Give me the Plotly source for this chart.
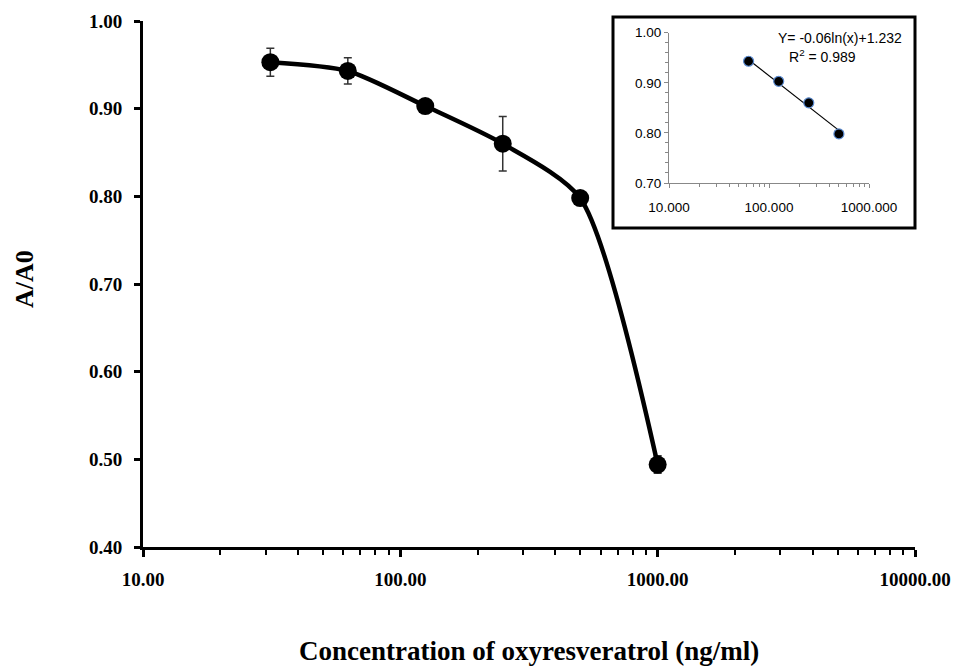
import plotly.graph_objects as go

# Main data
conc = [31.25, 62.5, 125, 250, 500, 1000]
ratio = [0.953, 0.943, 0.903, 0.860, 0.798, 0.494]
err = [0.016, 0.015, 0.003, 0.031, 0.004, 0.010]

x_tickvals = [10, 100, 1000, 10000]
x_ticktext = ["10.00", "100.00", "1000.00", "10000.00"]
y_tickvals = [0.40, 0.50, 0.60, 0.70, 0.80, 0.90, 1.00]
x_minor = [20, 30, 40, 50, 60, 70, 80, 90, 200, 300, 400, 500, 600, 700, 800, 900,
           2000, 3000, 4000, 5000, 6000, 7000, 8000, 9000]

# Inset data
ins_conc = [62.5, 125, 250, 500]
ins_ratio = [0.943, 0.903, 0.860, 0.798]
trend_x = [62.5, 500]
trend_y = [0.946, 0.805]
ins_x_tickvals = [10, 100, 1000]
ins_x_ticktext = ["10.000", "100.000", "1000.000"]
ins_y_tickvals = [0.70, 0.80, 0.90, 1.00]
ins_x_minor = [20, 30, 40, 50, 60, 70, 80, 90, 200, 300, 400, 500, 600, 700, 800, 900]

serif = "Liberation Serif"
sans = "Liberation Sans"

fig = go.Figure()

fig.add_trace(go.Scatter(
    x=conc, y=ratio, mode="lines+markers",
    line=dict(color="black", width=4.5, shape="spline", smoothing=0.7),
    marker=dict(color="black", size=18),
    error_y=dict(type="data", array=err, visible=True, color="#333333", thickness=1.5, width=4),
    xaxis="x", yaxis="y", showlegend=False,
))

fig.add_trace(go.Scatter(
    x=trend_x, y=trend_y, mode="lines",
    line=dict(color="black", width=1.2),
    xaxis="x2", yaxis="y2", showlegend=False,
))
fig.add_trace(go.Scatter(
    x=ins_conc, y=ins_ratio, mode="markers",
    marker=dict(color="black", size=10, line=dict(color="#5B8BD0", width=1.2)),
    xaxis="x2", yaxis="y2", showlegend=False,
))

W, H = 956, 669
L, R, T, B = 143, 41, 21, 122
pw, ph = W - L - R, H - T - B

def px2x(px):
    return (px - L) / pw

def py2y(py):
    return (H - B - py) / ph

fig.update_layout(
    width=W, height=H, autosize=False,
    margin=dict(l=L, r=R, t=T, b=B, autoexpand=False),
    paper_bgcolor="white", plot_bgcolor="white",
    xaxis=dict(
        type="log", range=[1, 4], domain=[0, 1], automargin=False,
        tickvals=x_tickvals, ticktext=x_ticktext,
        ticks="outside", ticklen=7, tickwidth=2.5, tickcolor="black",
        showline=True, linecolor="black", linewidth=3,
        showgrid=False, zeroline=False,
        tickfont=dict(family=serif, size=19, color="black", weight="bold"),
        ticklabelstandoff=6,
        minor=dict(tickvals=x_minor, ticks="outside", ticklen=5, tickwidth=2, tickcolor="black", showgrid=False),
    ),
    yaxis=dict(
        range=[0.40, 1.00], domain=[0, 1], automargin=False,
        tickvals=y_tickvals, tickformat=".2f",
        ticks="outside", ticklen=6, tickwidth=2.5, tickcolor="black",
        showline=True, linecolor="black", linewidth=3,
        showgrid=False, zeroline=False,
        tickfont=dict(family=serif, size=19, color="black", weight="bold"),
        ticklabelstandoff=8,
    ),
    xaxis2=dict(
        type="log", range=[1, 3], domain=[px2x(669), px2x(869)], anchor="y2", automargin=False,
        tickvals=ins_x_tickvals, ticktext=ins_x_ticktext,
        ticks="outside", ticklen=4, tickwidth=1, tickcolor="#888888",
        showline=True, linecolor="#888888", linewidth=1,
        showgrid=False, zeroline=False,
        tickfont=dict(family=sans, size=13.5, color="black"),
        ticklabelstandoff=8,
        minor=dict(tickvals=ins_x_minor, ticks="outside", ticklen=3, tickwidth=1,
                   tickcolor="#888888", showgrid=False),
    ),
    yaxis2=dict(
        range=[0.70, 1.00], domain=[py2y(183), py2y(32.7)], anchor="x2", automargin=False,
        tickvals=ins_y_tickvals, tickformat=".2f",
        ticks="outside", ticklen=4, tickwidth=1, tickcolor="#888888",
        showline=True, linecolor="#888888", linewidth=1,
        showgrid=False, zeroline=False,
        tickfont=dict(family=sans, size=13.5, color="black"),
        minor=dict(dtick=0.02, ticks="outside", ticklen=3, tickwidth=1, tickcolor="#888888", showgrid=False),
    ),
    shapes=[dict(
        type="rect", xref="paper", yref="paper",
        x0=px2x(613), x1=px2x(915), y0=py2y(228), y1=py2y(17),
        line=dict(color="black", width=3), fillcolor="rgba(0,0,0,0)", layer="above",
    )],
    annotations=[
        dict(text="Concentration of oxyresveratrol (ng/ml)", xref="paper", yref="paper",
             x=0.5, y=py2y(651), showarrow=False, xanchor="center", yanchor="middle",
             font=dict(family=serif, size=27, color="black", weight="bold")),
        dict(text="A/A0", xref="paper", yref="paper",
             x=px2x(24), y=py2y(279), showarrow=False, textangle=-90, xanchor="center", yanchor="middle",
             font=dict(family=serif, size=26, color="black", weight="bold")),
        dict(text="Y= -0.06ln(x)+1.232", xref="paper", yref="paper",
             x=px2x(904), y=py2y(38), showarrow=False, xanchor="right", yanchor="middle",
             font=dict(family=sans, size=14, color="black")),
        dict(text="R<sup>2</sup> = 0.989", xref="paper", yref="paper",
             x=px2x(822), y=py2y(56), showarrow=False, xanchor="center", yanchor="middle",
             font=dict(family=sans, size=14, color="black")),
    ],
)

fig.write_html("out.html", config={"responsive": False})
